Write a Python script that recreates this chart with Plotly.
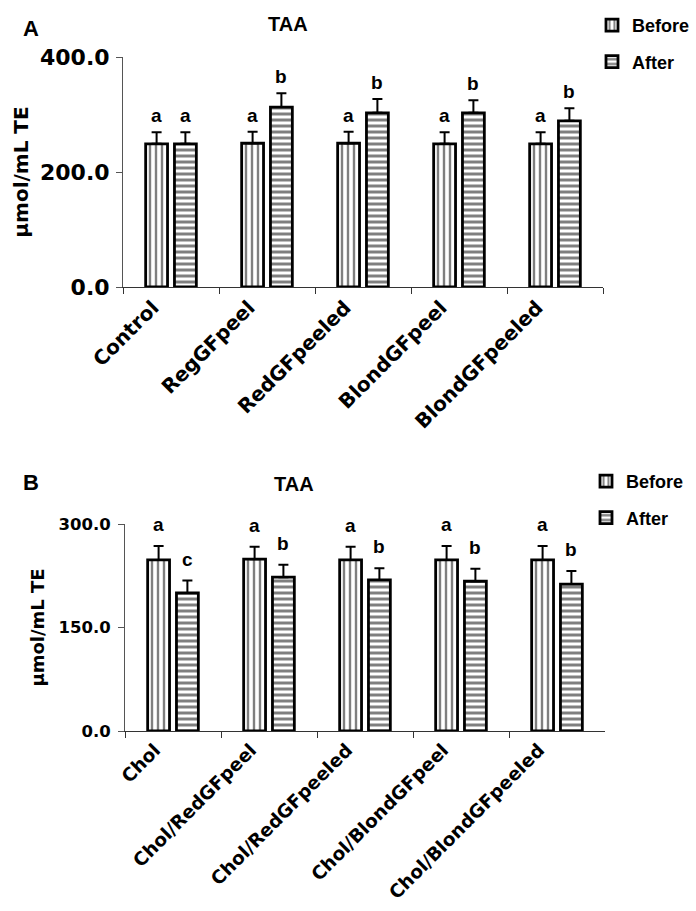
import plotly.graph_objects as go

# ---- data -------------------------------------------------------------
groups_a = ["Control", "RegGFpeel", "RedGFpeeled", "BlondGFpeel", "BlondGFpeeled"]
before_a = [249, 250, 250, 249, 249]
before_a_err = [20, 20, 20, 20, 20]
after_a = [249, 313, 303, 303, 289]
after_a_err = [20, 24, 24, 22, 22]
letters_before_a = ["a", "a", "a", "a", "a"]
letters_after_a = ["a", "b", "b", "b", "b"]

groups_b = ["Chol", "Chol/RedGFpeel", "Chol/RedGFpeeled", "Chol/BlondGFpeel", "Chol/BlondGFpeeled"]
before_b = [248, 249, 248, 248, 248]
before_b_err = [20, 18, 19, 20, 20]
after_b = [200, 223, 219, 217, 213]
after_b_err = [18, 18, 17, 18, 19]
letters_before_b = ["a", "a", "a", "a", "a"]
letters_after_b = ["c", "b", "b", "b", "b"]

series_names = ["Before", "After"]
y_ticks_a = [0, 200, 400]
y_ticks_b = [0, 150, 300]

# ---- styling ----------------------------------------------------------
W, H = 696, 911
BARGAP = 0.4
BARGROUPGAP = 0.24
SLOT_OFFSET = (1 - BARGAP) / 4  # centre offset of each bar inside its group

ARIAL = "Liberation Sans, Arial, sans-serif"
WIDE = "DejaVu Sans, sans-serif"

patterns = {
    "Before": dict(shape="|", fgcolor="black", bgcolor="white", size=6, solidity=0.4),
    "After": dict(shape="-", fgcolor="black", bgcolor="white", size=6, solidity=0.5),
}


def px_x(p):
    return p / W


def px_y(p):
    return 1 - p / H


fig = go.Figure()

panels = [
    dict(xa="x", ya="y", legend="legend", groups=groups_a,
         series=[(before_a, before_a_err, letters_before_a), (after_a, after_a_err, letters_after_a)],
         letter_shift=4),
    dict(xa="x2", ya="y2", legend="legend2", groups=groups_b,
         series=[(before_b, before_b_err, letters_before_b), (after_b, after_b_err, letters_after_b)],
         letter_shift=9),
]

annotations = []
for pi, pnl in enumerate(panels):
    for si, (vals, errs, letters) in enumerate(pnl["series"]):
        name = series_names[si]
        fig.add_trace(go.Bar(
            x=pnl["groups"], y=vals, name=name,
            xaxis=pnl["xa"], yaxis=pnl["ya"],
            legend=pnl["legend"], legendgroup=f"{pnl['legend']}_{name}",
            marker=dict(color="white", line=dict(color="black", width=2.8),
                        pattern=patterns[name]),
            error_y=dict(type="data", symmetric=False, array=errs,
                         arrayminus=[0] * len(errs), color="black",
                         thickness=2, width=5),
            hoverinfo="skip",
        ))
        sign = -1 if si == 0 else 1
        for i, (v, e, t) in enumerate(zip(vals, errs, letters)):
            annotations.append(dict(
                x=i + sign * SLOT_OFFSET, y=v + e, xref=pnl["xa"], yref=pnl["ya"],
                text=t, showarrow=False, yanchor="bottom", yshift=pnl["letter_shift"],
                font=dict(family=ARIAL, size=19, color="black", weight="bold"),
            ))

# panel letters and titles
for label, x, y in [("A", 31, 28), ("B", 31, 482)]:
    annotations.append(dict(x=px_x(x), y=px_y(y), xref="paper", yref="paper",
                            text=label, showarrow=False, xanchor="center", yanchor="middle",
                            font=dict(family=ARIAL, size=22, color="black", weight="bold")))
for x, y in [(288, 24), (294, 484)]:
    annotations.append(dict(x=px_x(x), y=px_y(y), xref="paper", yref="paper",
                            text="TAA", showarrow=False, xanchor="center", yanchor="middle",
                            font=dict(family=ARIAL, size=20, color="black", weight="bold")))

axis_common = dict(showgrid=False, zeroline=False, showline=True, linewidth=1,
                   ticks="outside", ticklen=6, tickwidth=1, automargin=False)

fig.update_layout(
    width=W, height=H,
    margin=dict(l=0, r=0, t=0, b=0, autoexpand=False),
    paper_bgcolor="white", plot_bgcolor="white",
    barmode="group", bargap=BARGAP, bargroupgap=BARGROUPGAP,
    annotations=annotations,
    xaxis=dict(domain=[px_x(123), px_x(603)], anchor="y", range=[-0.5, 4.5],
               tickson="boundaries", tickangle=-45, linecolor="#333", tickcolor="#333",
               ticklabelshift=-18,
               tickfont=dict(family=WIDE, size=20, color="black", weight="bold"),
               **axis_common),
    yaxis=dict(domain=[px_y(287), px_y(57)], anchor="x", range=[0, 400],
               tickvals=y_ticks_a, tickformat=".1f", linecolor="#555", tickcolor="#555",
               ticklabelstandoff=2,
               tickfont=dict(family=WIDE, size=22, color="black", weight="bold"),
               title=dict(text="μmol/mL TE", standoff=6,
                          font=dict(family=WIDE, size=20, color="black", weight="bold")),
               **axis_common),
    xaxis2=dict(domain=[px_x(125), px_x(605)], anchor="y2", range=[-0.5, 4.5],
                tickson="boundaries", tickangle=-45, linecolor="#333", tickcolor="#333",
                ticklabelshift=-18,
                tickfont=dict(family=WIDE, size=18.5, color="black", weight="bold"),
                **axis_common),
    yaxis2=dict(domain=[px_y(731), px_y(524)], anchor="x2", range=[0, 300],
                tickvals=y_ticks_b, tickformat=".1f", linecolor="#555", tickcolor="#555",
                ticklabelstandoff=4,
                tickfont=dict(family=WIDE, size=16.5, color="black", weight="bold"),
                title=dict(text="μmol/mL TE", standoff=9,
                           font=dict(family=WIDE, size=18, color="black", weight="bold")),
                **axis_common),
    legend=dict(x=px_x(592), y=px_y(7), xanchor="left", yanchor="top",
                tracegroupgap=10, bgcolor="rgba(0,0,0,0)",
                font=dict(family=ARIAL, size=18, color="black", weight="bold")),
    legend2=dict(x=px_x(586), y=px_y(463), xanchor="left", yanchor="top",
                 tracegroupgap=10, bgcolor="rgba(0,0,0,0)",
                 font=dict(family=ARIAL, size=18, color="black", weight="bold")),
)

fig.write_html("out.html")
